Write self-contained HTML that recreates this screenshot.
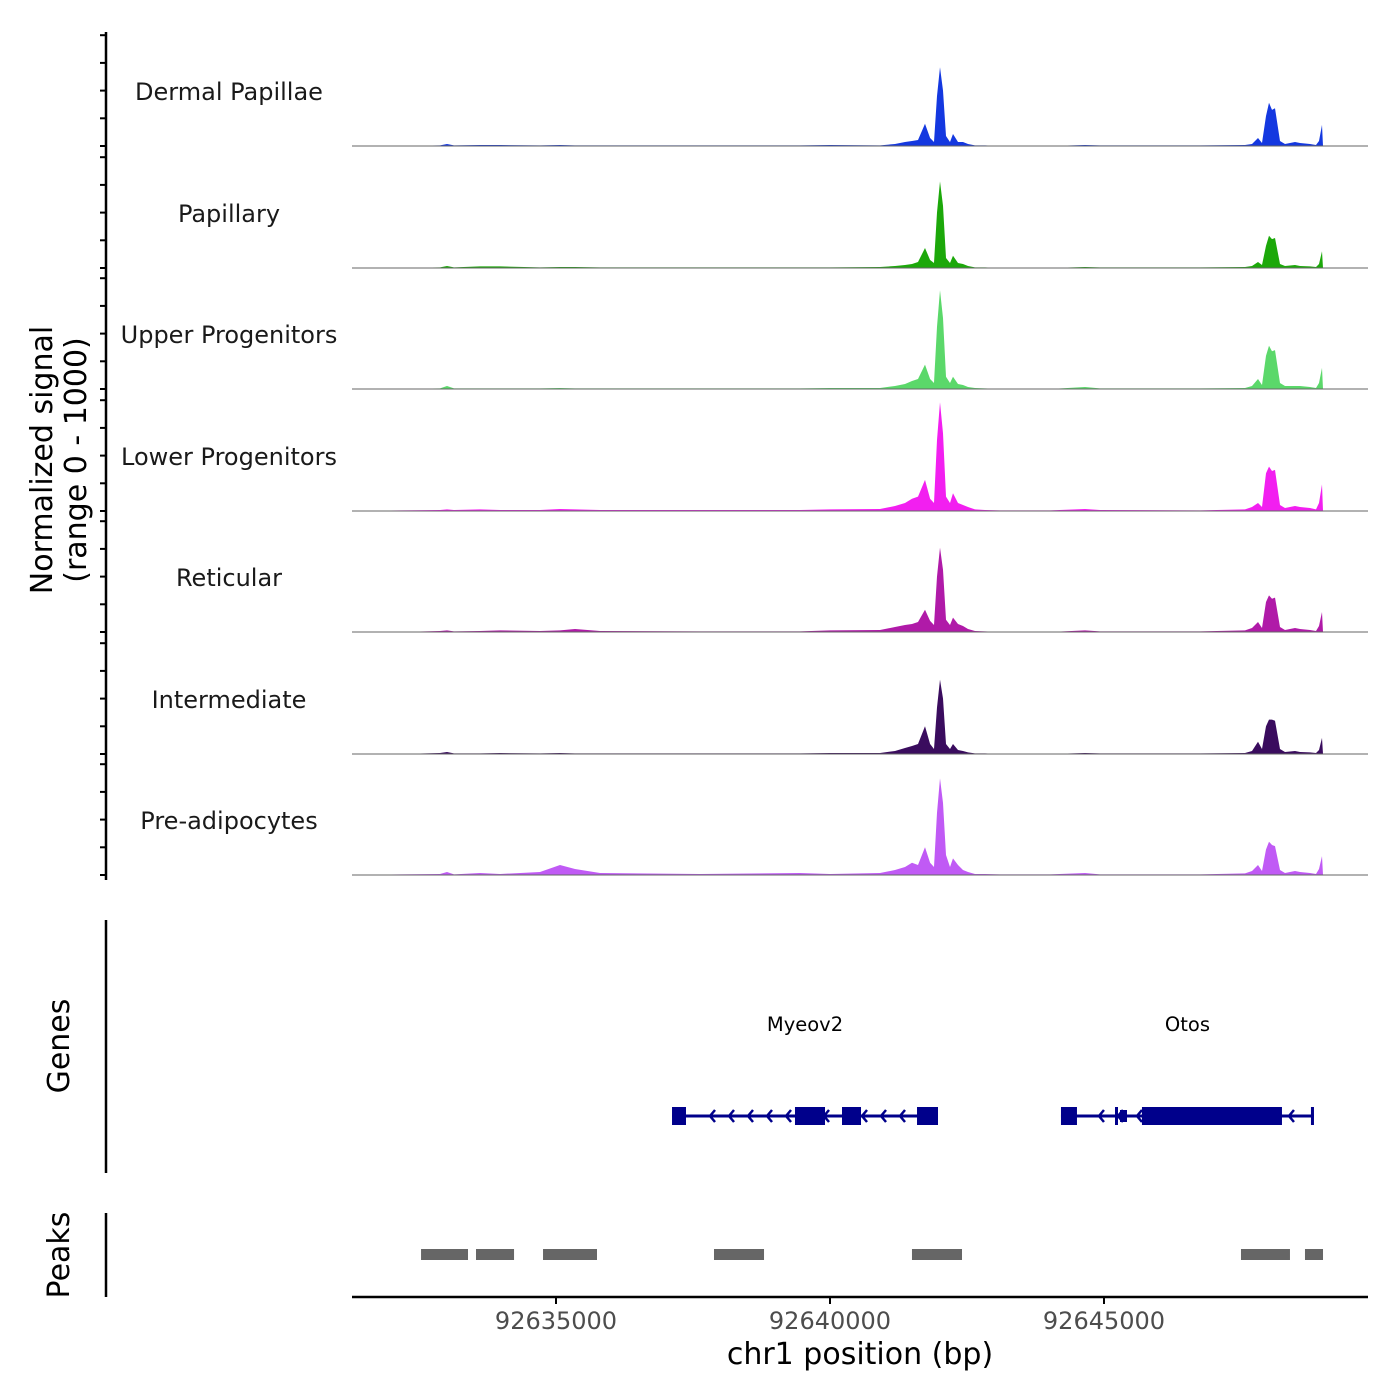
<!DOCTYPE html>
<html><head><meta charset="utf-8"><style>
html,body{margin:0;padding:0;background:#fff;}
svg{display:block;font-family:"DejaVu Sans","Liberation Sans",sans-serif;}
</style></head><body>
<svg id="chart" width="1400" height="1400" viewBox="0 0 1400 1400" xmlns="http://www.w3.org/2000/svg">
<rect width="1400" height="1400" fill="#fff"/>
<g id="tracks"></g>
<g id="genes"></g>
<g id="peaks"></g>
<g id="axes"></g>
</svg>
<script>
const positions=[92631277,92632153,92632883,92633011,92633139,92633613,92633979,92634708,92635073,92635347,92635803,92637628,92639453,92640000,92640912,92641186,92641369,92641496,92641606,92641734,92641826,92641898,92641953,92642007,92642062,92642117,92642190,92642245,92642336,92642427,92642518,92642646,92642828,92643102,92644015,92644653,92644927,92646752,92647573,92647701,92647810,92647883,92647956,92648011,92648066,92648120,92648212,92648303,92648486,92648577,92648759,92648869,92648924,92648978,92648997,92649818];
const trackNames=["Dermal Papillae","Papillary","Upper Progenitors","Lower Progenitors","Reticular","Intermediate","Pre-adipocytes"];
const trackColors=["#1438e0","#1ca80a","#5bd86a","#f21ff0","#b01aa8","#3a0c5e","#c05af5"];
const sigDP=[0,0,5,18,5,9,9,5,9,5,5,5,5,9,5,18,36,45,54,200,72,36,450,710,500,90,36,108,36,36,18,5,5,0,0,9,5,5,9,18,72,27,270,390,325,340,45,18,36,27,18,9,45,190,0,0];
const sigPap=[0,0,5,18,5,14,14,5,9,9,5,5,5,5,9,18,27,36,54,180,72,45,500,780,560,90,45,110,45,36,18,5,5,0,0,9,5,5,9,18,54,27,200,290,260,270,36,18,27,18,14,9,36,150,0,0];
const sigUP=[0,0,5,27,5,5,5,5,9,5,5,5,5,9,9,27,45,72,90,220,90,54,560,890,640,110,54,110,45,36,18,9,5,0,0,18,5,5,9,27,90,36,300,390,340,350,54,27,27,27,18,9,54,190,0,0];
const sigLP=[0,5,9,14,9,14,9,9,18,14,9,9,9,14,18,45,72,110,130,280,110,72,640,980,700,130,72,160,72,54,36,14,9,5,5,18,9,5,14,36,72,36,340,400,360,370,54,27,45,36,27,14,72,240,0,0];
const sigRet=[0,0,9,14,5,9,14,9,14,27,9,5,5,14,18,45,63,72,90,200,100,63,500,760,560,110,63,130,72,54,27,9,5,0,0,14,5,5,14,36,90,36,270,330,300,310,45,18,36,27,18,9,54,180,0,0];
const sigInt=[0,0,9,18,5,5,9,5,9,5,5,5,5,9,9,27,54,72,90,250,90,45,420,670,500,90,45,90,36,27,14,5,5,0,0,9,5,5,9,27,110,45,250,310,310,300,45,18,27,18,14,9,36,145,0,0];
const sigPre=[0,5,9,27,5,18,9,27,90,54,18,9,18,9,18,45,72,110,90,250,110,72,560,870,650,180,72,150,90,45,27,9,9,5,5,18,5,5,14,36,90,36,230,300,270,260,45,18,36,27,18,9,54,170,0,0];
const allSignals=[sigDP,sigPap,sigUP,sigLP,sigRet,sigInt,sigPre];
const xTicks=[92635000,92640000,92645000];
const peakStarts=[92632537,92633540,92634763,92637883,92641496,92647500,92648668];
const peakEnds=[92633394,92634234,92635748,92638796,92642409,92648394,92648997];
const geneNames=["Myeov2","Otos"];
const geneStarts=[92637117,92644215];
const geneEnds=[92641971,92648832];
const exonStarts=[92637117,92639361,92640219,92641588,92644215,92645201,92645292,92645693,92648777];
const exonEnds=[92637372,92639909,92640566,92641971,92644507,92645240,92645420,92648248,92648832];
const exonHeights=[18,18,18,18,18,18,12,18,18];

const NS="http://www.w3.org/2000/svg";
const X0=352,X1=1368,BP0=92631277,BP1=92649818;
function xs(bp){return X0+(bp-BP0)/(BP1-BP0)*(X1-X0);}
const baselines=[146,268,389,511,632,754,875];
const trackH=111;
function ys(v,i){return baselines[i]-v/1000*trackH;}
function mk(tag,attrs,parent){const e=document.createElementNS(NS,tag);for(const k in attrs)e.setAttribute(k,attrs[k]);parent.appendChild(e);return e;}
const tracks=document.getElementById('tracks');
allSignals.forEach((s,i)=>{
  const g=mk('g',{},tracks);
  
  
  let d='M'+xs(positions[0])+','+baselines[i];
  s.forEach((v,j)=>{d+=' L'+xs(positions[j]).toFixed(1)+','+ys(v,i).toFixed(1);});
  d+=' L'+xs(positions[positions.length-1])+','+baselines[i]+' Z';
  const p=mk('path',{d:d,fill:trackColors[i]},g);
  
  
  const l=mk('line',{x1:X0,x2:X1,y1:baselines[i],y2:baselines[i],stroke:'#666','stroke-width':1},g);
  
  
  const t=mk('text',{x:229,y:baselines[i]-46,'text-anchor':'middle','font-size':24,fill:'#1a1a1a'},g);
  t.textContent=trackNames[i];
  
  
});
// genes
const genes=document.getElementById('genes');
const GY=1116,GC='#00008b';
geneNames.forEach((n,i)=>{
  const l=mk('line',{x1:xs(geneStarts[i]),x2:xs(geneEnds[i]),y1:GY,y2:GY,stroke:GC,'stroke-width':3},genes);
  
  
  const t=mk('text',{x:(xs(geneStarts[i])+xs(geneEnds[i]))/2,y:1031,'text-anchor':'middle','font-size':19.5,fill:'#000'},genes);
  t.textContent=n;
  
  
  for(let x=xs(geneStarts[i])+38;x<xs(geneEnds[i])-10;x+=19){
    const a=mk('path',{d:`M${x+5},${GY-6} L${x},${GY} L${x+5},${GY+6}`,stroke:GC,'stroke-width':2.5,fill:'none'},genes);
    
    
  }
});
exonStarts.forEach((s,i)=>{
  const h=exonHeights[i];
  const r=mk('rect',{x:xs(s),y:GY-h/2,width:Math.max(3,xs(exonEnds[i])-xs(s)),height:h,fill:GC},genes);
  
  
});
// peaks
const peaks=document.getElementById('peaks');
peakStarts.forEach((s,i)=>{
  const r=mk('rect',{x:xs(s),y:1249,width:xs(peakEnds[i])-xs(s),height:11,fill:'#666'},peaks);
  
  
});
// axes
const ax=document.getElementById('axes');
function ln(x1,y1,x2,y2,w,name){const l=mk('line',{x1,y1,x2,y2,stroke:'#000','stroke-width':w},ax);return l;}
ln(106,32,106,880,2.5,'y-axis-line');
baselines.forEach((b)=>{for(let k=0;k<5;k++){ln(100,b-k*27.7,106,b-k*27.7,2,'y-tick');}});
ln(106,920,106,1173,2.5,'genes-axis-line');
ln(106,1213,106,1297,2.5,'peaks-axis-line');
ln(352,1297,1368,1297,2.5,'x-axis-line');
xTicks.forEach(v=>{
  ln(xs(v),1297,xs(v),1304,2,'x-tick');
  const t=mk('text',{x:xs(v),y:1329,'text-anchor':'middle','font-size':24,fill:'#4d4d4d'},ax);
  t.textContent=v;
  
  
});
function txt(s,x,y,size,rot,name){const t=mk('text',{x,y,'text-anchor':'middle','font-size':size,fill:'#000'},ax);if(rot)t.setAttribute('transform',`rotate(-90 ${x} ${y})`);t.textContent=s;}
txt('chr1 position (bp)',860,1364,30,false,'x-axis-title');
txt('Normalized signal',52,460,30,true,'y-axis-title');
txt('(range 0 - 1000)',86,460,30,true,'y-axis-subtitle');
txt('Genes',69,1046,30,true,'genes-axis-title');
txt('Peaks',69,1255,30,true,'peaks-axis-title');
</script>
</body></html>
